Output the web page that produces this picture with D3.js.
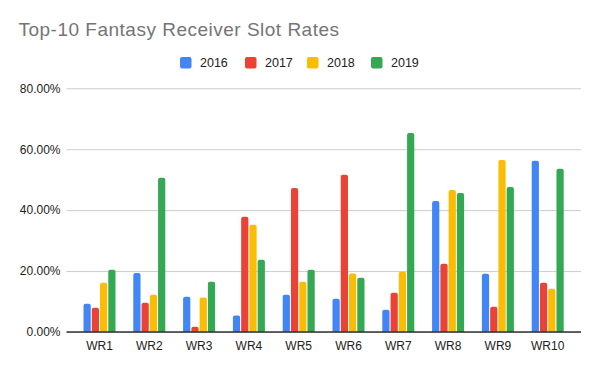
<!DOCTYPE html>
<html><head><meta charset="utf-8">
<script src="https://cdn.jsdelivr.net/npm/d3@7"></script>
<style>body{margin:0;background:#fff}svg{display:block;font-family:"Liberation Sans",Arial,sans-serif}</style>
</head><body><svg id="c" width="600" height="371"></svg>
<script>
const categories = ["WR1","WR2","WR3","WR4","WR5","WR6","WR7","WR8","WR9","WR10"];
const seriesNames = ["2016","2017","2018","2019"];
const s2016 = [9.3,19.4,11.6,5.4,12.2,10.9,7.3,43.0,19.1,56.2];
const s2017 = [8.0,9.6,1.7,37.8,47.3,51.6,12.9,22.4,8.3,16.2];
const s2018 = [16.2,12.2,11.3,35.2,16.5,19.2,19.8,46.6,56.5,14.2];
const s2019 = [20.4,50.6,16.5,23.7,20.4,17.8,65.3,45.6,47.6,53.6];
const yTicks = [0,20,40,60,80];
const colors = ["#4285F4","#EA4335","#FBBC04","#34A853"];
const series = [s2016,s2017,s2018,s2019];

const svg = d3.select("#c");
const y = d3.scaleLinear().domain([0,80]).range([332,88.3]);
const x = d3.scaleBand().domain(categories).range([74.6,572.6]);
const xs = d3.scaleBand().domain(seriesNames).range([0,32]).paddingInner(0.125);

// title
const title = svg.append("text").attr("x",18.5).attr("y",35.5).attr("font-size",19).attr("fill","#757575").text("Top-10 Fantasy Receiver Slot Rates");
const tl = title.node().getComputedTextLength();
const nChars = title.text().length;
title.attr("letter-spacing", ((321 - tl) / nChars).toFixed(3));

// legend
const legX = [180,245,307,371];
seriesNames.forEach((n,i)=>{
  const g = svg.append("g").attr("transform",`translate(${legX[i]},57)`);
  g.append("rect").attr("width",11.5).attr("height",11.5).attr("rx",2).attr("fill",colors[i]);
  g.append("text").attr("x",20).attr("y",9.8).attr("font-size",12.5).attr("fill","#222").text(n);
});

// gridlines
const yAxis = d3.axisLeft(y).tickValues(yTicks).tickSize(-(581-66.5)).tickFormat(d=>d.toFixed(2)+"%").tickPadding(6);
const ga = svg.append("g").attr("transform","translate(66.5,0)").call(yAxis);
ga.select(".domain").remove();
ga.selectAll(".tick line").attr("stroke","#cccccc");
ga.selectAll(".tick text").attr("font-size",12).attr("fill","#222").attr("font-family","Liberation Sans, Arial, sans-serif");

// bars
function barPath(x0,w,yTop,yBot){
  const r = Math.min(2,(yBot-yTop));
  return `M${x0},${yBot}V${yTop+r}Q${x0},${yTop} ${x0+r},${yTop}H${x0+w-r}Q${x0+w},${yTop} ${x0+w},${yTop+r}V${yBot}Z`;
}
categories.forEach((c,ci)=>{
  const cx = x(c)+x.bandwidth()/2 - 16;
  series.forEach((s,si)=>{
    svg.append("path").attr("fill",colors[si])
      .attr("d",barPath(cx+xs(seriesNames[si]),xs.bandwidth(),y(s[ci]),y(0)));
  });
});

// baseline
svg.append("line").attr("x1",66.5).attr("x2",581).attr("y1",y(0)).attr("y2",y(0)).attr("stroke","#333").attr("stroke-width",1.3);

// x axis labels
const xAxis = d3.axisBottom(x).tickSize(0).tickPadding(9);
const gx = svg.append("g").attr("transform",`translate(0,${y(0)})`).call(xAxis);
gx.select(".domain").remove();
gx.selectAll(".tick text").attr("font-size",12).attr("fill","#222").attr("font-family","Liberation Sans, Arial, sans-serif");
</script></body></html>
